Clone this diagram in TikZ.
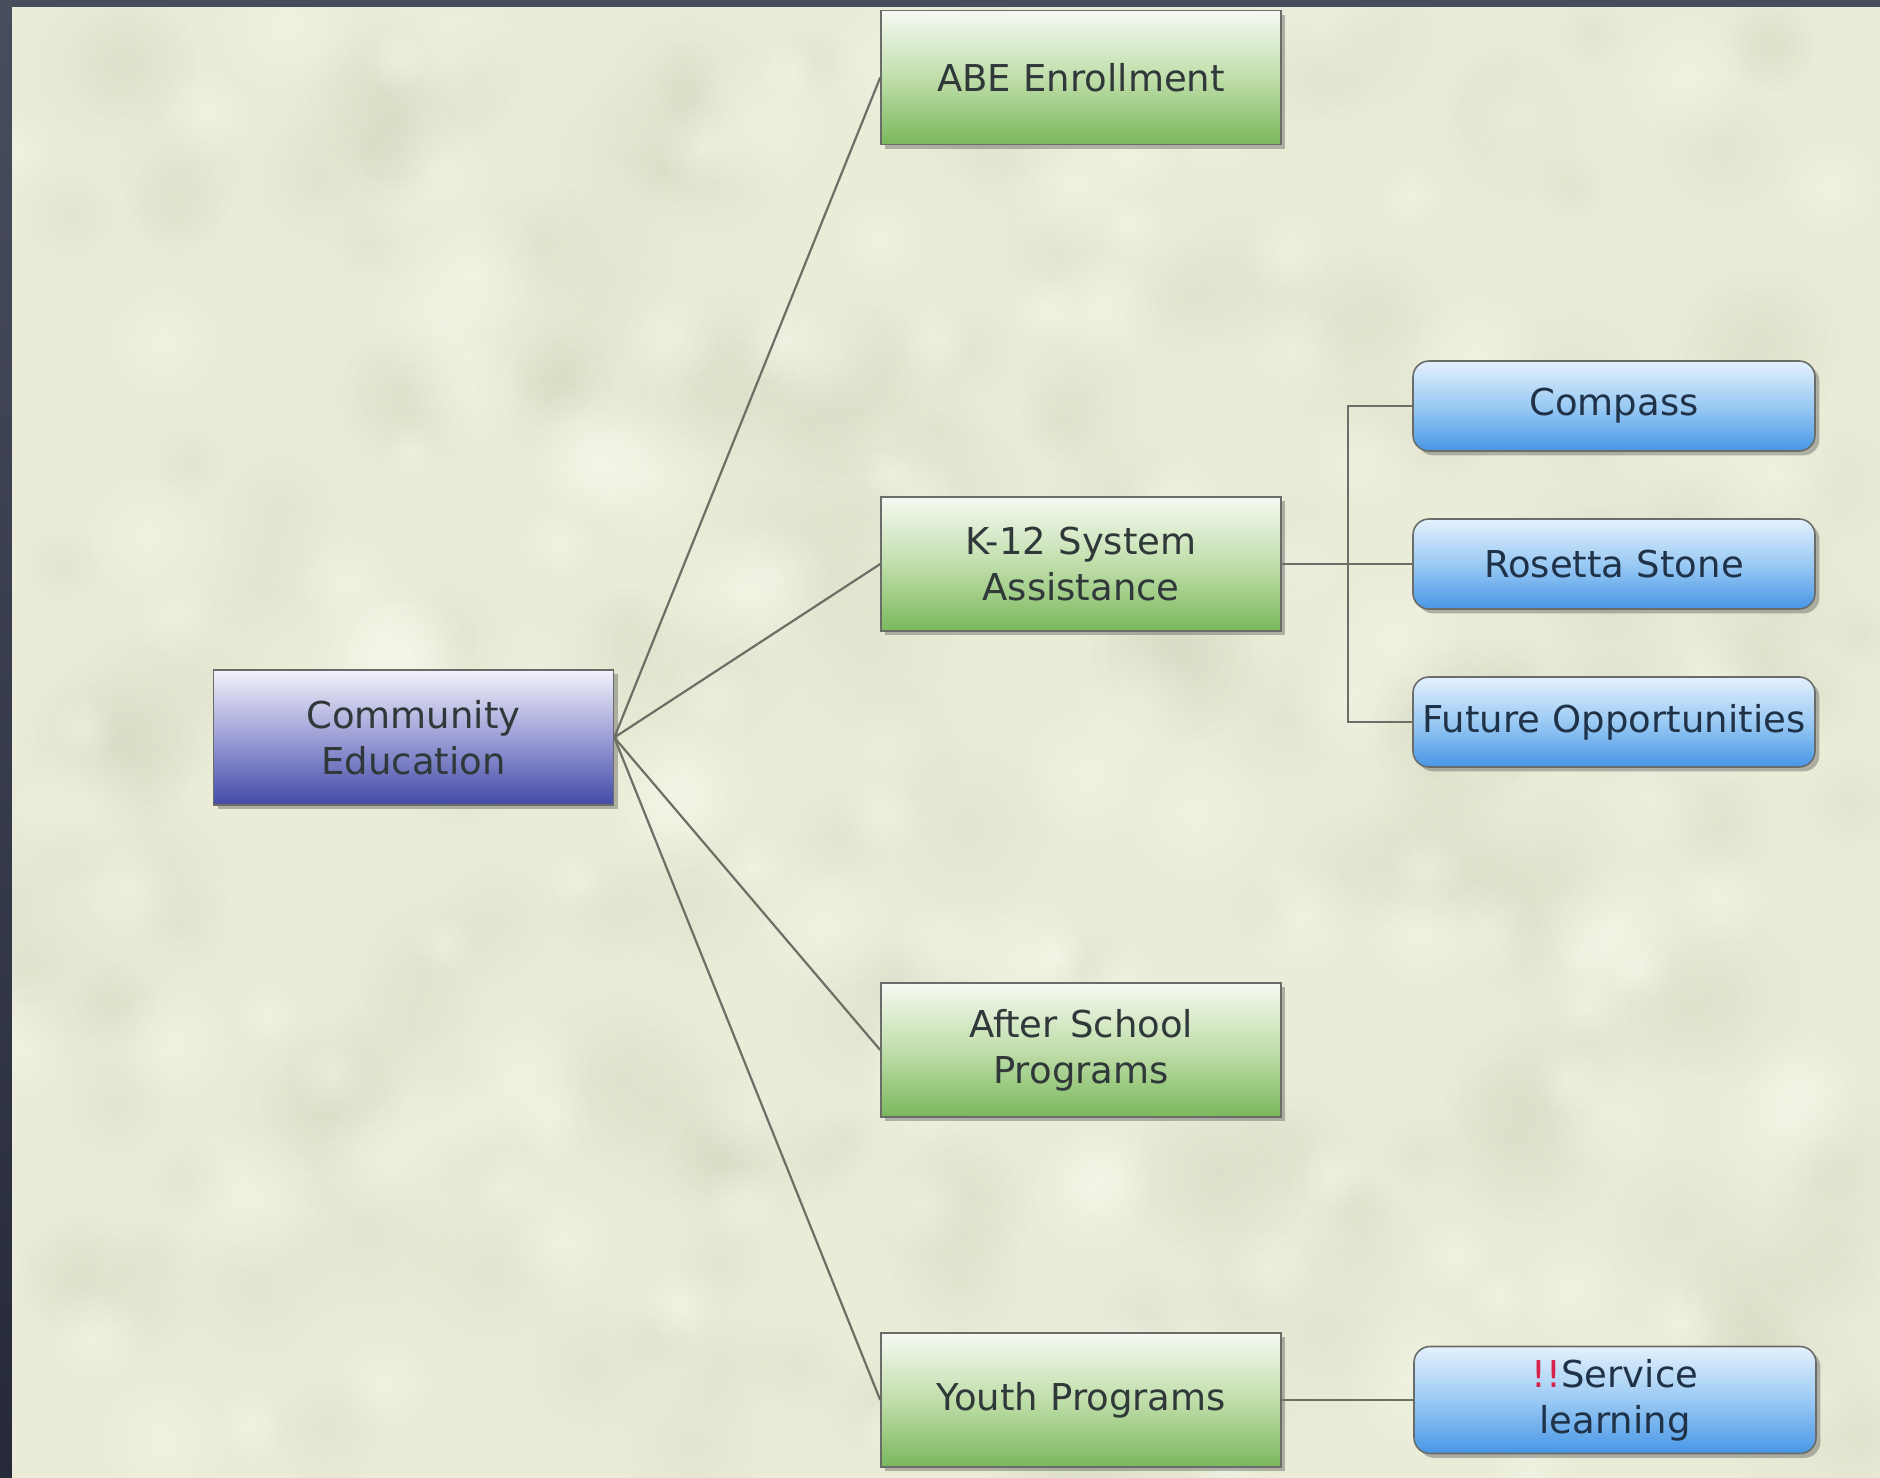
\documentclass[tikz,border=0pt]{standalone}
\usepackage{fontspec}
\setmainfont{DejaVu Sans}
\usetikzlibrary{shadows,fadings}

\definecolor{frame}{RGB}{72,77,94}
\definecolor{frameDark}{RGB}{38,42,56}
\definecolor{paper}{RGB}{234,236,216}
\definecolor{paperDark}{RGB}{208,212,188}
\definecolor{paperLight}{RGB}{248,250,238}
\definecolor{lineGray}{RGB}{110,110,102}
\definecolor{boxEdge}{RGB}{105,108,104}
\definecolor{txt}{RGB}{48,56,58}
\definecolor{txtBlue}{RGB}{32,50,72}
\definecolor{bang}{RGB}{215,35,75}
\definecolor{grTop}{RGB}{246,249,242}
\definecolor{grMid}{RGB}{192,222,170}
\definecolor{grBot}{RGB}{122,184,92}
\definecolor{puTop}{RGB}{242,242,250}
\definecolor{puMid}{RGB}{156,158,214}
\definecolor{puBot}{RGB}{66,74,166}
\definecolor{blTop}{RGB}{228,240,252}
\definecolor{blMid}{RGB}{154,202,244}
\definecolor{blBot}{RGB}{72,150,230}

\tikzfading[name=blob, inner color=transparent!0, outer color=transparent!100]

\tikzset{
  box/.style={rectangle, draw=boxEdge, line width=0.8pt, inner sep=0pt,
    align=center, font=\fontsize{18.5}{23}\selectfont,
    drop shadow={shadow xshift=2.2pt, shadow yshift=-2.2pt, opacity=0.35, fill=black!75}},
  rootbox/.style={box, text=txt, minimum width=200pt, minimum height=67.5pt,
    text width=196pt, top color=puTop, bottom color=puBot, middle color=puMid},
  catbox/.style={box, text=txt, minimum width=200pt, minimum height=67pt,
    text width=196pt, top color=grTop, bottom color=grBot, middle color=grMid},
  leafbox/.style={box, text=txtBlue, rounded corners=8pt, minimum width=201pt,
    minimum height=45pt, text width=200pt, top color=blTop, bottom color=blBot,
    middle color=blMid},
  link/.style={draw=lineGray, line width=1.1pt},
}

\begin{document}
\begin{tikzpicture}[x=0.5pt, y=-0.5pt]
\useasboundingbox (0,0) rectangle (1880,1478);

% frame and paper
\shade[top color=frame, bottom color=frameDark] (0,0) rectangle (1880,1478);
\fill[paper] (12,7) rectangle (1880,1478);
\begin{scope}
  \clip (12,7) rectangle (1880,1478);
  \pgfmathsetseed{4213}
  \foreach \i in {1,...,200}{
    \fill[paperDark, path fading=blob, fill opacity=0.3]
      ({12+rnd*1868},{7+rnd*1471}) circle [radius={18pt+rnd*30pt}];
  }
  \foreach \i in {1,...,140}{
    \fill[paperLight, path fading=blob, fill opacity=0.45]
      ({12+rnd*1868},{7+rnd*1471}) circle [radius={14pt+rnd*26pt}];
  }
\end{scope}

% nodes
\node[rootbox] (root) at (413.5,737.5) {Community\\Education};
\node[catbox] (abe) at (1081,77.5) {ABE Enrollment};
\node[catbox] (k12) at (1081,564) {K-12 System\\Assistance};
\node[catbox] (after) at (1081,1050) {After School\\Programs};
\node[catbox] (youth) at (1081,1400) {Youth Programs};
\node[leafbox] (compass) at (1614,406) {Compass};
\node[leafbox] (rosetta) at (1614,564) {Rosetta Stone};
\node[leafbox] (future) at (1614,722) {Future Opportunities};
\node[leafbox, minimum height=53.5pt] (service) at (1615,1400)
  {\textcolor{bang}{!!}Service\\learning};

% connectors
\coordinate (bus) at (1348,564);
\draw[link] (root.east) -- (abe.west);
\draw[link] (root.east) -- (k12.west);
\draw[link] (root.east) -- (after.west);
\draw[link] (root.east) -- (youth.west);
\draw[link] (k12.east) -- (rosetta.west);
\draw[link] (compass.west) -| (bus) |- (future.west);
\draw[link] (youth.east) -- (service.west);
\end{tikzpicture}
\end{document}
